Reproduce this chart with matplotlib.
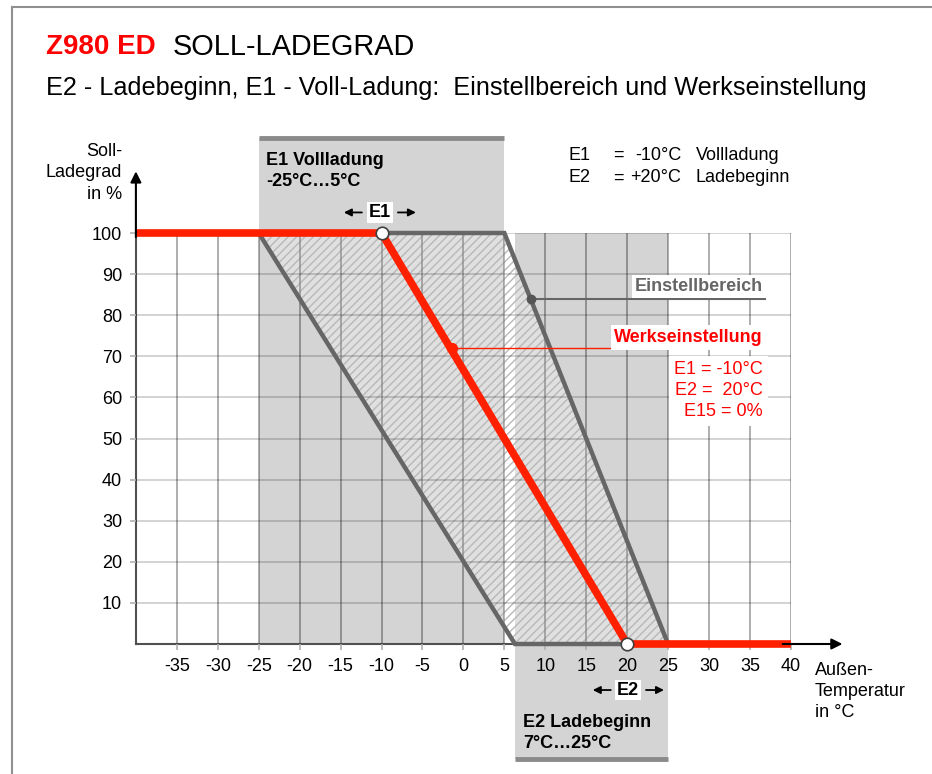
import matplotlib
matplotlib.use("Agg")
import matplotlib.pyplot as plt
from matplotlib.lines import Line2D

plt.rcParams['font.family'] = ['Liberation Sans', 'DejaVu Sans']
plt.rcParams['hatch.linewidth'] = 1.0

# Werkseinstellung (rote Kennlinie)
werk_x = [-40, -10, 20, 40]
werk_y = [100, 100, 0, 0]

# Einstellbereich (schraffierte Flaeche)
bereich_x = [-25, 5, 25, 6.3]
bereich_y = [100, 100, 0, 0]

# Einstellbereiche E1 / E2 (graue Baender)
e1_band = (-25, 5, 0, 123)
e2_band = (6.3, 25, -28, 100)

x_ticks = list(range(-35, 45, 5))
y_ticks = list(range(10, 110, 10))

fs = 13

fig = plt.figure(figsize=(9.32, 7.74), dpi=100)
ax = fig.add_axes([135.9 / 932, 130 / 774, 655 / 932, 411 / 774])
ax.set_xlim(-40, 40)
ax.set_ylim(0, 100)

# graue Baender
band_col = '#d4d4d4'
bar_col = '#8a8a8a'
x0, x1, y0, y1 = e1_band
ax.fill([x0, x1, x1, x0], [y0, y0, y1, y1], color=band_col, lw=0, zorder=0.5, clip_on=False)
ax.plot([x0, x1], [y1, y1], color=bar_col, lw=3.5, solid_capstyle='butt', zorder=0.6, clip_on=False)
x0, x1, y0, y1 = e2_band
ax.fill([x0, x1, x1, x0], [y0, y0, y1, y1], color=band_col, lw=0, zorder=0.5, clip_on=False)
ax.plot([x0, x1], [y0, y0], color=bar_col, lw=3.5, solid_capstyle='butt', zorder=0.6, clip_on=False)

# Gitter
ax.set_xticks(x_ticks)
ax.set_yticks(y_ticks)
ax.set_xticklabels([str(v) for v in x_ticks])
ax.set_yticklabels([str(v) for v in y_ticks])
ax.grid(True, color='black', alpha=0.2, lw=1.2, zorder=1)
ax.set_axisbelow(False)
for v in x_ticks:
    ax.axvline(v, color='black', alpha=0.2, lw=1.2, zorder=1)
ax.tick_params(axis='both', colors='#b0b0b0', length=4, width=1.2, labelsize=fs,
               labelcolor='black')
ax.tick_params(axis='x', pad=6)
ax.tick_params(axis='y', pad=6)
for s in ['top', 'right']:
    ax.spines[s].set_visible(False)
for s in ['left', 'bottom']:
    ax.spines[s].set_color('#505050')
    ax.spines[s].set_linewidth(1.5)
    ax.spines[s].set_zorder(2.5)

# Einstellbereich
ax.fill(bereich_x, bereich_y, facecolor=(1, 1, 1, 0.3), edgecolor='#b8b8b8', hatch='////',
        lw=0, zorder=2)
ax.plot(bereich_x + [bereich_x[0]], bereich_y + [bereich_y[0]], color='#666666', lw=3.2,
        solid_joinstyle='miter', zorder=3, clip_on=False)

# Werkseinstellung
ax.plot(werk_x, werk_y, color='#ff2000', lw=5.5, solid_capstyle='butt', zorder=4, clip_on=False)
ax.plot([werk_x[1], werk_x[2]], [werk_y[1], werk_y[2]], 'o', ms=9, mfc='white',
        mec='#404040', mew=1.2, zorder=5, clip_on=False)

# Achsenpfeile
ax.annotate('', xy=(-40, 115), xytext=(-40, 99), zorder=6, annotation_clip=False,
            arrowprops=dict(arrowstyle='-|>', color='black', lw=1.5, mutation_scale=16,
                            shrinkA=0, shrinkB=0))
ax.annotate('', xy=(46.3, 0), xytext=(39, 0), zorder=6, annotation_clip=False,
            arrowprops=dict(arrowstyle='-|>', color='black', lw=1.5, mutation_scale=16,
                            shrinkA=0, shrinkB=0))

# Achsentitel
ax.text(-41.7, 114.6, 'Soll-\nLadegrad\nin %', ha='right', va='center', fontsize=fs,
        linespacing=1.32, multialignment='right', clip_on=False)
ax.text(42.9, -11.6, 'Außen-\nTemperatur\nin °C', ha='left', va='center', fontsize=fs,
        linespacing=1.32, clip_on=False)

# Bandbeschriftungen
ax.text(-24.1, 115.0, 'E1 Vollladung\n-25°C…5°C', ha='left', va='center', fontsize=fs,
        fontweight='bold', linespacing=1.3, clip_on=False)
ax.text(7.3, -21.6, 'E2 Ladebeginn\n7°C…25°C', ha='left', va='center', fontsize=fs,
        fontweight='bold', linespacing=1.3, clip_on=False)

arrow_kw = dict(arrowstyle='-|>', color='black', lw=1.3, mutation_scale=11, shrinkA=0, shrinkB=0)
ax.text(-10.2, 105, 'E1', ha='center', va='center', fontsize=fs, fontweight='bold',
        bbox=dict(boxstyle='square,pad=0.1', fc='white', ec='none'), zorder=6, clip_on=False)
ax.annotate('', xy=(-14.6, 105), xytext=(-12.4, 105), arrowprops=arrow_kw, annotation_clip=False)
ax.annotate('', xy=(-5.8, 105), xytext=(-8.0, 105), arrowprops=arrow_kw, annotation_clip=False)
ax.text(20.1, -11.2, 'E2', ha='center', va='center', fontsize=fs, fontweight='bold',
        bbox=dict(boxstyle='square,pad=0.1', fc='white', ec='none'), zorder=6, clip_on=False)
ax.annotate('', xy=(15.8, -11.2), xytext=(18.0, -11.2), arrowprops=arrow_kw, annotation_clip=False)
ax.annotate('', xy=(24.5, -11.2), xytext=(22.3, -11.2), arrowprops=arrow_kw, annotation_clip=False)

# Legende oben rechts
for yy, name, val, txt in [(118.8, 'E1', '-10°C', 'Vollladung'), (113.4, 'E2', '+20°C', 'Ladebeginn')]:
    ax.text(12.8, yy, name, ha='left', va='center', fontsize=fs, clip_on=False)
    ax.text(18.9, yy, '=', ha='center', va='center', fontsize=fs, clip_on=False)
    ax.text(26.6, yy, val, ha='right', va='center', fontsize=fs, clip_on=False)
    ax.text(28.4, yy, txt, ha='left', va='center', fontsize=fs, clip_on=False)

# Hinweis Einstellbereich
ax.plot([8.2, 36.8], [84, 84], color='#666666', lw=1.5, zorder=6)
ax.plot([8.2], [84], 'o', color='#555555', ms=6, zorder=6)
ax.text(36.6, 87, 'Einstellbereich', ha='right', va='center', fontsize=fs, fontweight='bold',
        color='#666666', bbox=dict(boxstyle='square,pad=0.15', fc='white', ec='none'), zorder=6)

# Hinweis Werkseinstellung
ax.plot([-1.4, 36.8], [72, 72], color='#ff2000', lw=1.0, zorder=6)
ax.plot([-1.4], [72], 'o', color='#ff2000', ms=7, zorder=6)
ax.text(36.6, 74.6, 'Werkseinstellung', ha='right', va='center', fontsize=fs, fontweight='bold',
        color='#ff0000', bbox=dict(boxstyle='square,pad=0.2', fc='white', ec='none'), zorder=6)
ax.text(36.6, 61.6, 'E1 = -10°C\nE2 =  20°C\nE15 = 0%', ha='right', va='center', fontsize=fs,
        color='#ff0000', linespacing=1.32, multialignment='right',
        bbox=dict(boxstyle='square,pad=0.3', fc='white', ec='none'), zorder=6)

# Titel
fig.text(46 / 932, 1 - 47 / 774, 'Z980 ED', ha='left', va='center', fontsize=20,
         fontweight='bold', color='#ff0000')
fig.text(173 / 932, 1 - 47 / 774, 'SOLL-LADEGRAD', ha='left', va='center', fontsize=20.8)
fig.text(46 / 932, 1 - 88 / 774,
         'E2 - Ladebeginn, E1 - Voll-Ladung:  Einstellbereich und Werkseinstellung',
         ha='left', va='center', fontsize=18.2)

# Rahmen
fig.add_artist(Line2D([12 / 932, 12 / 932], [0, 1 - 7 / 774], color='#909090', lw=1.5))
fig.add_artist(Line2D([12 / 932, 1], [1 - 7 / 774, 1 - 7 / 774], color='#909090', lw=1.5))

fig.savefig('out.png', dpi=100)
